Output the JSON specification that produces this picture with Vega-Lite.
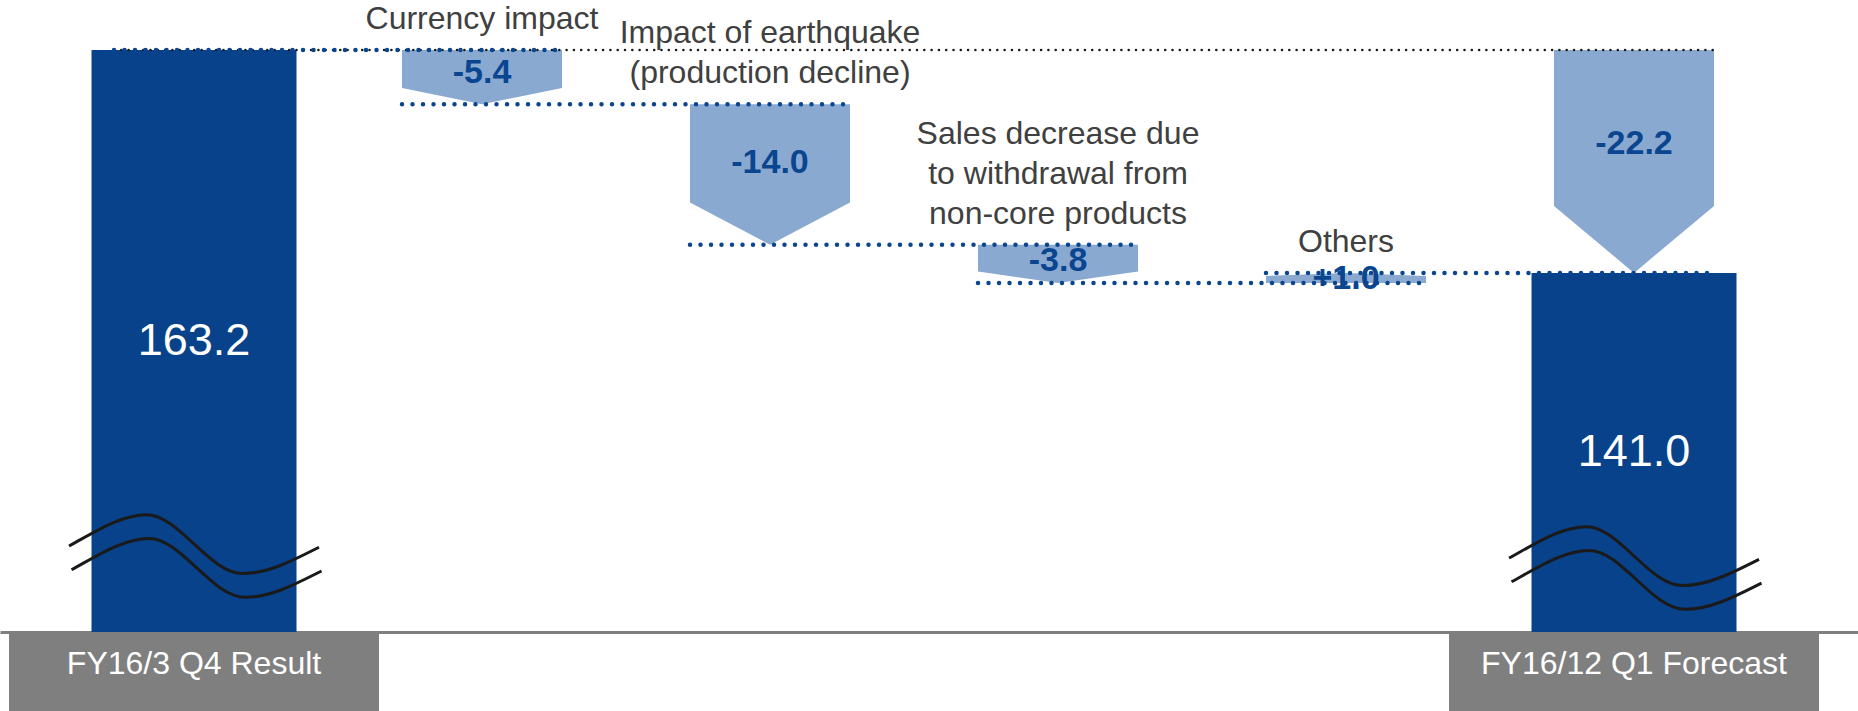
{
  "$schema": "https://vega.github.io/schema/vega-lite/v6.json",
  "padding": 0,
  "background": "white",
  "spacing": 2,
  "bounds": "flush",
  "config": {"view": {"stroke": null}, "font": "Liberation Sans"},
  "datasets": {
    "totals": [
      {"step": "FY16/3 Q4 Result", "value": 163.2, "label": "163.2", "brk": 112.8},
      {"step": "FY16/12 Q1 Forecast", "value": 141.0, "label": "141.0", "brk": 111.6}
    ],
    "changes": [
      {"id": "c1", "step": "Currency impact", "from": 163.2, "to": 157.8, "label": "-5.4", "name": "Currency impact"},
      {"id": "c2", "step": "Impact of earthquake", "from": 157.8, "to": 143.8, "label": "-14.0", "name": "Impact of earthquake\n(production decline)"},
      {"id": "c3", "step": "Sales decrease", "from": 143.8, "to": 140.0, "label": "-3.8", "name": "Sales decrease due\nto withdrawal from\nnon-core products"},
      {"id": "c4", "step": "Others", "from": 140.0, "to": 141.0, "label": "+1.0", "name": "Others"},
      {"id": "c5", "step": "FY16/12 Q1 Forecast", "from": 163.2, "to": 141.0, "label": "-22.2", "name": ""}
    ],
    "connectors": [
      {"level": 163.2, "a": "FY16/3 Q4 Result", "b": "Currency impact"},
      {"level": 157.8, "a": "Currency impact", "b": "Impact of earthquake"},
      {"level": 143.8, "a": "Impact of earthquake", "b": "Sales decrease"},
      {"level": 140.0, "a": "Sales decrease", "b": "Others"},
      {"level": 141.0, "a": "Others", "b": "FY16/12 Q1 Forecast"}
    ],
    "reference": [
      {"level": 163.2, "a": "FY16/3 Q4 Result", "b": "FY16/12 Q1 Forecast"}
    ]
  },
  "vconcat": [
    {
      "width": 1858,
      "height": 632,
      "resolve": {"scale": {"x": "independent"}, "axis": {"x": "independent"}},
      "layer": [
        {
          "data": {"name": "totals"},
          "mark": {"type": "bar", "color": "#08428A", "width": 205, "clip": true},
          "encoding": {
            "x": {"field": "step", "type": "nominal", "scale": {"type": "band", "domain": ["FY16/3 Q4 Result", "Currency impact", "Impact of earthquake", "Sales decrease", "Others", "FY16/12 Q1 Forecast"], "paddingInner": 0.4444, "paddingOuter": 0.4479, "align": 0.4419}, "axis": {"domain": true, "domainColor": "#7F7F7F", "domainWidth": 3, "labels": false, "ticks": false, "title": null, "grid": false}},
            "y": {"field": "value", "type": "quantitative", "scale": {"domain": [105.23, 168.18], "zero": false, "nice": false}, "axis": null}
          }
        },
        {
          "data": {"name": "changes"},
          "transform": [
            {"calculate": "['L', 'M', 'R']", "as": "corner"},
            {"flatten": ["corner"]},
            {"calculate": "indexof(['FY16/3 Q4 Result', 'Currency impact', 'Impact of earthquake', 'Sales decrease', 'Others', 'FY16/12 Q1 Forecast'], datum.step) + (datum.corner == 'L' ? -0.2778 : (datum.corner == 'R' ? 0.2778 : 0))", "as": "slot"},
            {"calculate": "datum.corner == 'M' ? datum.to : datum.from + 0.7 * (datum.to - datum.from)", "as": "edge"}
          ],
          "mark": {"type": "area", "color": "#8AA9D1", "opacity": 1, "interpolate": "linear"},
          "encoding": {
            "x": {"field": "slot", "type": "quantitative", "scale": {"domain": [-0.67361, 5.77778], "zero": false, "nice": false}, "axis": null},
            "y": {"field": "from", "type": "quantitative", "scale": {"domain": [105.23, 168.18], "zero": false, "nice": false}, "axis": null, "stack": null},
            "y2": {"field": "edge"},
            "detail": {"field": "id"}
          }
        },
        {
          "data": {"name": "reference"},
          "mark": {"type": "rule", "color": "#1A1A1A", "strokeWidth": 2.6, "strokeDash": [0, 7.3], "strokeCap": "round"},
          "encoding": {
            "x": {"field": "a", "type": "nominal", "bandPosition": 0, "scale": {"type": "band", "domain": ["FY16/3 Q4 Result", "Currency impact", "Impact of earthquake", "Sales decrease", "Others", "FY16/12 Q1 Forecast"], "paddingInner": 0.4444, "paddingOuter": 0.4479, "align": 0.4419}, "axis": null},
            "x2": {"field": "b", "bandPosition": 1},
            "y": {"field": "level", "type": "quantitative", "scale": {"domain": [105.23, 168.18], "zero": false, "nice": false}, "axis": null}
          }
        },
        {
          "data": {"name": "connectors"},
          "mark": {"type": "rule", "color": "#0A4590", "strokeWidth": 4.5, "strokeDash": [0, 10.5], "strokeCap": "round"},
          "encoding": {
            "x": {"field": "a", "type": "nominal", "bandPosition": 0, "scale": {"type": "band", "domain": ["FY16/3 Q4 Result", "Currency impact", "Impact of earthquake", "Sales decrease", "Others", "FY16/12 Q1 Forecast"], "paddingInner": 0.4444, "paddingOuter": 0.4479, "align": 0.4419}, "axis": null},
            "x2": {"field": "b", "bandPosition": 1},
            "y": {"field": "level", "type": "quantitative", "scale": {"domain": [105.23, 168.18], "zero": false, "nice": false}, "axis": null}
          }
        },
        {
          "data": {"name": "changes"},
          "transform": [{"calculate": "datum.from + 0.42 * (datum.to - datum.from)", "as": "mid"}],
          "mark": {"type": "text", "fontSize": 34, "fontWeight": "bold", "color": "#0A4590", "align": "center", "baseline": "middle"},
          "encoding": {
            "x": {"field": "step", "type": "nominal", "scale": {"type": "band", "domain": ["FY16/3 Q4 Result", "Currency impact", "Impact of earthquake", "Sales decrease", "Others", "FY16/12 Q1 Forecast"], "paddingInner": 0.4444, "paddingOuter": 0.4479, "align": 0.4419}, "axis": null},
            "y": {"field": "mid", "type": "quantitative", "scale": {"domain": [105.23, 168.18], "zero": false, "nice": false}, "axis": null},
            "text": {"field": "label"}
          }
        },
        {
          "data": {"name": "changes"},
          "transform": [{"filter": "datum.name != ''"}, {"calculate": "max(datum.from, datum.to)", "as": "top"}],
          "mark": {"type": "text", "fontSize": 32, "color": "#404040", "align": "center", "baseline": "bottom", "dy": {"expr": "-14 - 40 * (length(split(datum.name, '\\n')) - 1)"}, "lineHeight": 40, "lineBreak": "\n"},
          "encoding": {
            "x": {"field": "step", "type": "nominal", "scale": {"type": "band", "domain": ["FY16/3 Q4 Result", "Currency impact", "Impact of earthquake", "Sales decrease", "Others", "FY16/12 Q1 Forecast"], "paddingInner": 0.4444, "paddingOuter": 0.4479, "align": 0.4419}, "axis": null},
            "y": {"field": "top", "type": "quantitative", "scale": {"domain": [105.23, 168.18], "zero": false, "nice": false}, "axis": null},
            "text": {"field": "name"}
          }
        },
        {
          "data": {"name": "totals"},
          "transform": [{"calculate": "(datum.value + 105.23) / 2", "as": "mid"}],
          "mark": {"type": "text", "fontSize": 45, "color": "white", "align": "center", "baseline": "middle"},
          "encoding": {
            "x": {"field": "step", "type": "nominal", "scale": {"type": "band", "domain": ["FY16/3 Q4 Result", "Currency impact", "Impact of earthquake", "Sales decrease", "Others", "FY16/12 Q1 Forecast"], "paddingInner": 0.4444, "paddingOuter": 0.4479, "align": 0.4419}, "axis": null},
            "y": {"field": "mid", "type": "quantitative", "scale": {"domain": [105.23, 168.18], "zero": false, "nice": false}, "axis": null},
            "text": {"field": "label"}
          }
        },
        {
          "data": {"name": "totals"},
          "mark": {"type": "point", "shape": "M-1,-0.08C-0.78,-0.2,-0.58,-0.33,-0.38,-0.33C-0.12,-0.33,0.12,0.14,0.39,0.14C0.6,0.14,0.8,0.03,1,-0.07M-0.98,0.11C-0.76,-0.01,-0.56,-0.14,-0.36,-0.14C-0.1,-0.14,0.14,0.33,0.41,0.33C0.62,0.33,0.82,0.22,1.02,0.12", "size": 62500, "filled": false, "stroke": "#1A1A1A", "strokeWidth": 3, "opacity": 1},
          "encoding": {
            "x": {"field": "step", "type": "nominal", "scale": {"type": "band", "domain": ["FY16/3 Q4 Result", "Currency impact", "Impact of earthquake", "Sales decrease", "Others", "FY16/12 Q1 Forecast"], "paddingInner": 0.4444, "paddingOuter": 0.4479, "align": 0.4419}, "axis": null},
            "y": {"field": "brk", "type": "quantitative", "scale": {"domain": [105.23, 168.18], "zero": false, "nice": false}, "axis": null}
          }
        }
      ]
    },
    {
      "width": 1858,
      "height": 77,
      "data": {"name": "totals"},
      "layer": [
        {
          "mark": {"type": "bar", "color": "#7F7F7F", "width": 370},
          "encoding": {
            "x": {"field": "step", "type": "nominal", "scale": {"type": "band", "domain": ["FY16/3 Q4 Result", "Currency impact", "Impact of earthquake", "Sales decrease", "Others", "FY16/12 Q1 Forecast"], "paddingInner": 0.4444, "paddingOuter": 0.4479, "align": 0.4419}, "axis": null}
          }
        },
        {
          "mark": {"type": "text", "fontSize": 32, "color": "white", "align": "center", "baseline": "middle", "dy": -9},
          "encoding": {
            "x": {"field": "step", "type": "nominal", "scale": {"type": "band", "domain": ["FY16/3 Q4 Result", "Currency impact", "Impact of earthquake", "Sales decrease", "Others", "FY16/12 Q1 Forecast"], "paddingInner": 0.4444, "paddingOuter": 0.4479, "align": 0.4419}, "axis": null},
            "text": {"field": "step"}
          }
        }
      ]
    }
  ]
}
